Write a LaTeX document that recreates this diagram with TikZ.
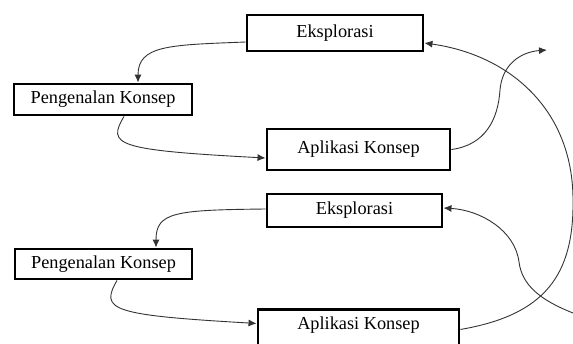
\documentclass[tikz,border=0pt]{standalone}
\usepackage{fontspec}
\setmainfont{Liberation Serif}
\usetikzlibrary{arrows.meta}
\begin{document}
\begin{tikzpicture}[x=1pt,y=-1pt,
  box/.style={draw=black,line width=2.9pt,inner sep=0pt,fill=white,
    font=\fontsize{18.3}{20}\selectfont},
  conn/.style={draw=black!80,line width=0.9pt,-{Latex[length=8pt,width=7pt]}}]
\useasboundingbox (0,0) rectangle (573,343);
% top cycle
\node[box,minimum width=176pt,minimum height=36pt] (e1) at (335,33) {Eksplorasi};
\node[box,minimum width=178pt,minimum height=31pt] (p1) at (103,99.5) {Pengenalan Konsep};
\node[box,minimum width=183pt,minimum height=41pt] (a1) at (358.5,149.5) {Aplikasi Konsep};
% bottom cycle
\node[box,minimum width=175pt,minimum height=33pt] (e2) at (354.5,210.5) {Eksplorasi};
\node[box,minimum width=177pt,minimum height=30pt] (p2) at (103.5,264) {Pengenalan Konsep};
\node[box,minimum width=201pt,minimum height=40pt,anchor=north] (a2) at (358.5,308) {};
\node[font=\fontsize{18.3}{20}\selectfont,inner sep=0pt] (a2t) at ([yshift=4pt]a2.center) {Aplikasi Konsep};
\coordinate (c3end) at (547,50);
\coordinate (c5start) at (573,313);
% connectors
\path[conn] ([yshift=-9pt]e1.west) .. controls (170,45) and (138,45) .. ([xshift=35pt]p1.north);
\path[conn] ([xshift=21pt]p1.south) .. controls (107,145) and (115,150) .. ([yshift=-8.5pt]a1.west);
\path[conn] (a1.east) .. controls (485,145) and (498,120) .. (500,90) .. controls (502,65) and (520,52) .. (c3end);
\path[conn] (a2.east) .. controls (545,315) and (574,275) .. (573,200) .. controls (573,110) and (510,55) .. ([yshift=-10pt]e1.east);
\path[conn] (c5start) .. controls (540,300) and (522,285) .. (519,262) .. controls (515,230) and (480,210) .. ([yshift=2.5pt]e2.east);
\path[conn] ([yshift=1.5pt]e2.west) .. controls (175,210) and (156,212) .. ([xshift=52.5pt]p2.north);
\path[conn] ([xshift=13.5pt]p2.south) .. controls (100,310) and (110,315) .. ([yshift=6pt]a2.west);
\end{tikzpicture}
\end{document}
